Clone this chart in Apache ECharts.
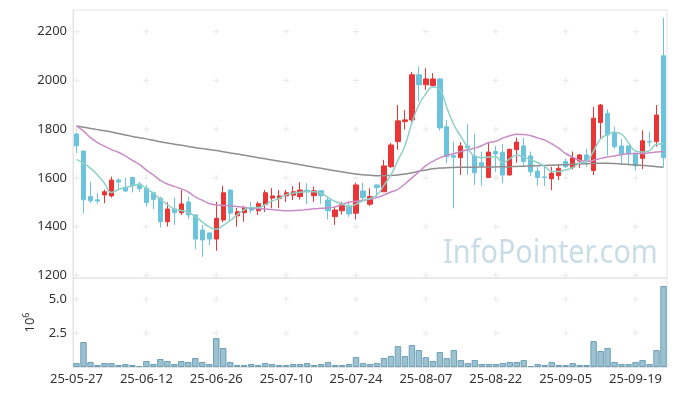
<!DOCTYPE html>
<html><head><meta charset="utf-8">
<script src="https://cdn.jsdelivr.net/npm/echarts@6/dist/echarts.min.js"></script>
<style>html,body{margin:0;padding:0;background:#fff}#c{width:677px;height:396px}</style>
</head><body><div id="c"></div>
<script>
const dates = ["25-05-27","25-05-28","25-05-29","25-05-30","25-06-02","25-06-04","25-06-05","25-06-09","25-06-10","25-06-11",
"25-06-12","25-06-13","25-06-16","25-06-17","25-06-18","25-06-19","25-06-20","25-06-23","25-06-24","25-06-25",
"25-06-26","25-06-27","25-06-30","25-07-01","25-07-02","25-07-03","25-07-04","25-07-07","25-07-08","25-07-09",
"25-07-10","25-07-11","25-07-14","25-07-15","25-07-16","25-07-17","25-07-18","25-07-21","25-07-22","25-07-23",
"25-07-24","25-07-25","25-07-28","25-07-29","25-07-30","25-07-31","25-08-01","25-08-04","25-08-05","25-08-06",
"25-08-07","25-08-08","25-08-11","25-08-12","25-08-13","25-08-14","25-08-18","25-08-19","25-08-20","25-08-21",
"25-08-22","25-08-25","25-08-26","25-08-27","25-08-28","25-08-29","25-09-01","25-09-02","25-09-03","25-09-04",
"25-09-05","25-09-08","25-09-09","25-09-10","25-09-11","25-09-12","25-09-15","25-09-16","25-09-17","25-09-18",
"25-09-19","25-09-22","25-09-23","25-09-24","25-09-25"];

const openP = [1780,1710,1523,1510,1530,1526,1591,1561,1601,1575,
1557,1539,1516,1420,1472,1457,1501,1448,1386,1374,
1349,1427,1550,1444,1457,1476,1465,1490,1517,1515,
1526,1529,1523,1549,1527,1547,1509,1441,1465,1485,
1455,1546,1492,1571,1543,1646,1749,1831,1838,2023,
1982,1979,2006,1810,1691,1683,1731,1690,1662,1601,
1708,1705,1612,1716,1731,1690,1628,1604,1596,1609,
1667,1643,1669,1694,1630,1827,1865,1786,1731,1731,
1701,1680,1750,1749,2101];
const closeP = [1732,1510,1506,1505,1543,1591,1583,1546,1567,1556,
1498,1512,1420,1472,1457,1493,1448,1349,1345,1349,
1434,1539,1455,1461,1478,1467,1494,1539,1526,1526,
1539,1543,1550,1545,1547,1527,1465,1468,1490,1452,
1571,1519,1523,1560,1649,1735,1834,1838,2023,1982,
2006,2006,1805,1687,1685,1731,1724,1621,1650,1706,
1698,1612,1717,1747,1667,1625,1602,1601,1619,1639,
1646,1682,1694,1670,1845,1899,1776,1728,1698,1698,
1649,1752,1747,1858,1683];
const lowP = [1701,1455,1496,1493,1496,1519,1550,1543,1540,1542,
1482,1472,1396,1400,1407,1448,1431,1307,1276,1324,
1301,1418,1420,1400,1420,1455,1448,1460,1475,1475,
1501,1509,1511,1493,1502,1493,1429,1407,1449,1440,
1429,1508,1485,1522,1542,1641,1715,1798,1828,1913,
1961,1975,1794,1660,1475,1612,1612,1571,1567,1601,
1624,1578,1609,1662,1649,1608,1567,1567,1550,1591,
1640,1634,1641,1645,1612,1763,1691,1720,1653,1657,
1630,1636,1728,1728,1646];
const highP = [1786,1712,1584,1537,1552,1605,1598,1601,1605,1583,
1571,1543,1523,1500,1519,1550,1523,1450,1407,1376,
1501,1567,1552,1476,1485,1502,1502,1550,1558,1550,
1550,1566,1583,1578,1564,1550,1523,1482,1502,1502,
1580,1580,1557,1573,1674,1743,1899,1878,2035,2057,
2050,2030,2009,1838,1749,1747,1821,1780,1708,1747,
1731,1739,1721,1765,1764,1708,1645,1646,1645,1657,
1680,1708,1698,1719,1892,1903,1882,1810,1760,1733,
1703,1795,1790,1899,2256];

const ma5 = [1676,1660,1640,1612,1578,1540,1552,1560,1568,1572,
1555,1537,1513,1490,1472,1466,1458,1442,1419,1399,
1389,1405,1425,1448,1469,1478,1478,1490,1505,1516,
1530,1537,1541,1543,1543,1537,1520,1503,1494,1481,
1492,1506,1515,1530,1570,1612,1672,1732,1826,1900,
1945,1973,1962,1888,1818,1770,1724,1688,1683,1686,
1687,1662,1678,1693,1686,1674,1662,1647,1627,1626,
1633,1642,1661,1668,1711,1760,1778,1787,1779,1744,
1710,1706,1712,1738,1740];
const ma20 = [1813,1792,1765,1745,1730,1716,1705,1690,1672,1655,
1632,1612,1590,1575,1565,1555,1542,1522,1508,1495,
1489,1487,1485,1482,1479,1476,1474,1472,1470,1467,
1465,1466,1467,1470,1473,1475,1477,1481,1490,1500,
1504,1508,1512,1519,1530,1542,1553,1575,1600,1625,
1650,1668,1682,1692,1700,1708,1715,1722,1732,1745,
1750,1763,1773,1779,1778,1773,1764,1755,1740,1722,
1700,1685,1672,1668,1672,1680,1686,1690,1695,1699,
1700,1700,1703,1706,1708];
const ma120 = [1813,1808,1803,1798,1793,1788,1782,1776,1770,1765,
1760,1754,1748,1743,1738,1734,1729,1724,1720,1716,
1712,1707,1702,1698,1693,1688,1683,1678,1673,1668,
1664,1659,1654,1649,1644,1639,1634,1629,1624,1620,
1616,1613,1611,1609,1609,1610,1612,1616,1621,1627,
1632,1637,1640,1642,1643,1644,1644,1644,1645,1645,
1645,1646,1646,1647,1648,1649,1650,1651,1652,1653,
1654,1656,1657,1658,1659,1660,1660,1659,1657,1655,
1653,1651,1649,1646,1644];

// volume in millions
const volume = [0.29,1.84,0.37,0.15,0.29,0.29,0.15,0.22,0.15,0.07,
0.44,0.22,0.59,0.44,0.22,0.44,0.37,0.66,0.37,0.22,
2.13,1.40,0.37,0.15,0.15,0.22,0.15,0.29,0.22,0.15,
0.15,0.22,0.22,0.29,0.15,0.22,0.37,0.15,0.15,0.22,
0.73,0.29,0.22,0.29,0.66,0.81,1.54,0.81,1.62,1.25,
0.73,0.44,1.10,0.66,1.25,0.51,0.29,0.51,0.22,0.22,
0.22,0.29,0.37,0.37,0.51,0.07,0.22,0.15,0.37,0.15,
0.15,0.29,0.15,0.15,1.91,1.18,1.40,0.37,0.22,0.22,
0.37,0.51,0.22,1.25,5.98];

const priceTicks = [1200,1400,1600,1800,2000,2200];
const volTicks = [2.5,5.0];
const labelEvery = 10;

const candleData = dates.map((d,i)=>[openP[i],closeP[i],lowP[i],highP[i]]);
const markIdx = dates.map((d,i)=>i).filter(i=>i%labelEvery===0);
const pricePlus = [];
markIdx.forEach(i=>priceTicks.forEach(v=>pricePlus.push([i,v])));
const volPlus = [];
markIdx.forEach(i=>volTicks.forEach(v=>volPlus.push([i,v])));

const plusPath = 'path://M4,0h2v4h4v2h-4v4h-2v-4h-4v-2h4z';
const FONT = 'Noto Sans';
const chart = echarts.init(document.getElementById('c'), null, {renderer:'canvas'});
chart.setOption({
  animation:false,
  backgroundColor:'#fff',
  textStyle:{fontFamily:FONT},
  grid:[
    {left:73,right:10,top:10,height:268,show:true,borderColor:'#e3e3e3',borderWidth:1},
    {left:73,right:10,top:278,height:89,show:true,borderColor:'#e3e3e3',borderWidth:1}
  ],
  graphic:[{type:'text',x:443,y:238,scaleX:0.9,z:-1,silent:true,
    style:{text:'InfoPointer.com',fontSize:32,fontFamily:FONT,fill:'#c9dde7'}}],
  xAxis:[
    {type:'category',gridIndex:0,data:dates,boundaryGap:true,
     axisLine:{show:false},axisTick:{show:false},axisLabel:{show:false},splitLine:{show:false}},
    {type:'category',gridIndex:1,data:dates,boundaryGap:true,
     axisLine:{show:true,lineStyle:{color:'#e3e3e3'}},axisTick:{show:false},
     axisLabel:{interval:labelEvery-1,color:'#333',fontSize:13,fontFamily:FONT,margin:6},splitLine:{show:false}}
  ],
  yAxis:[
    {type:'value',gridIndex:0,min:1189,max:2289,splitNumber:5,scale:true,
     axisLine:{show:true,lineStyle:{color:'#e3e3e3'}},axisTick:{show:false},splitLine:{show:false},
     axisLabel:{color:'#333',fontSize:13,fontFamily:FONT,margin:6,
       formatter:v=>priceTicks.indexOf(Math.round(v))>=0 && Math.abs(v-Math.round(v))<1e-6 ? String(Math.round(v)) : ''}},
    {type:'value',gridIndex:1,min:0,max:6.57,interval:2.5,
     name:'{a|10}{b|6}',nameLocation:'middle',nameGap:34,nameRotate:90,
     nameTextStyle:{rich:{a:{fontSize:13,color:'#333',fontFamily:FONT},b:{fontSize:9,color:'#333',fontFamily:FONT,verticalAlign:'top',padding:[0,0,8,0]}}},
     axisLine:{show:true,lineStyle:{color:'#e3e3e3'}},axisTick:{show:false},splitLine:{show:false},
     axisLabel:{color:'#333',fontSize:13,fontFamily:FONT,margin:6,showMaxLabel:false,
       formatter:v=> v===0 ? '' : v.toFixed(1)}}
  ],
  series:[
    {type:'scatter',xAxisIndex:0,yAxisIndex:0,data:pricePlus,symbol:plusPath,symbolSize:6,
     itemStyle:{color:'#e6e6e6'},silent:true,z:1},
    {type:'scatter',xAxisIndex:1,yAxisIndex:1,data:volPlus,symbol:plusPath,symbolSize:6,
     itemStyle:{color:'#e6e6e6'},silent:true,z:1},
    {type:'candlestick',xAxisIndex:0,yAxisIndex:0,data:candleData,barWidth:'68%',z:3,
     itemStyle:{color:'#e93535',color0:'#6cc3dc',borderColor:'#e93535',borderColor0:'#6cc3dc',borderWidth:1}},
    {type:'line',xAxisIndex:0,yAxisIndex:0,data:ma120,smooth:true,showSymbol:false,z:4,
     lineStyle:{color:'#8e8e8e',width:1.5}},
    {type:'line',xAxisIndex:0,yAxisIndex:0,data:ma20,smooth:true,showSymbol:false,z:4,
     lineStyle:{color:'#c98cc6',width:1.5}},
    {type:'line',xAxisIndex:0,yAxisIndex:0,data:ma5,smooth:true,showSymbol:false,z:4,
     lineStyle:{color:'#8fd0c6',width:1.5}},
    {type:'bar',xAxisIndex:1,yAxisIndex:1,data:volume,barCategoryGap:'8%',z:3,
     itemStyle:{color:'#9cc2d2',borderColor:'#6e9fb5',borderWidth:1}}
  ]
});
</script></body></html>
